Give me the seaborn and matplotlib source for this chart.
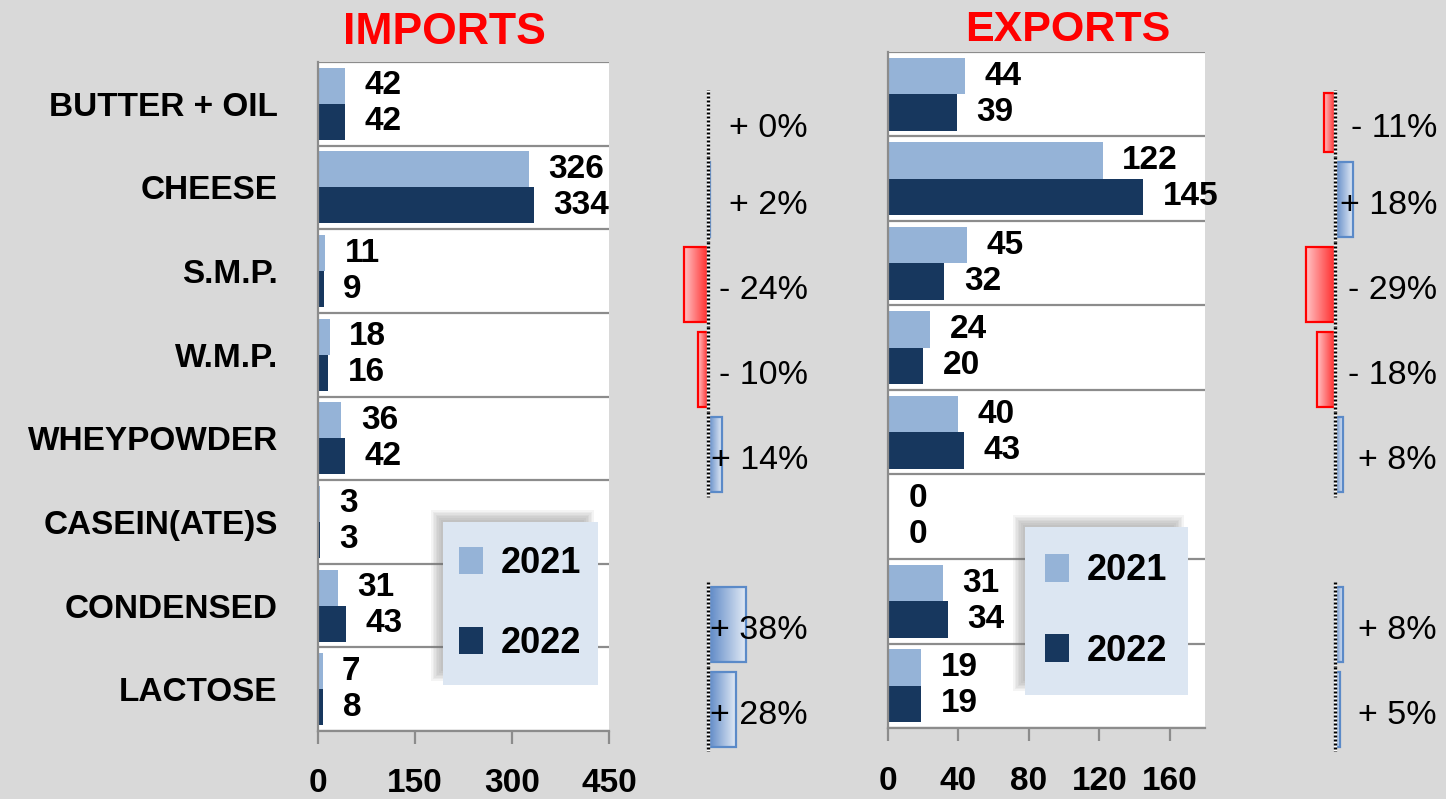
import numpy as np
import pandas as pd
import matplotlib
matplotlib.use("Agg")
import matplotlib.pyplot as plt
import seaborn as sns
from matplotlib.patches import Patch, Rectangle
from matplotlib.colors import LinearSegmentedColormap

# ---------------- data ----------------
categories = ["BUTTER + OIL", "CHEESE", "S.M.P.", "W.M.P.", "WHEYPOWDER",
              "CASEIN(ATE)S", "CONDENSED", "LACTOSE"]
years = ["2021", "2022"]
imports_2021 = [42, 326, 11, 18, 36, 3, 31, 7]
imports_2022 = [42, 334, 9, 16, 42, 3, 43, 8]
exports_2021 = [44, 122, 45, 24, 40, 0.4, 31, 19]
exports_2022 = [39, 145, 32, 20, 43, 0.4, 34, 19]
imports_change = [0, 2, -24, -10, 14, np.nan, 38, 28]
exports_change = [-11, 18, -29, -18, 8, np.nan, 8, 5]
imports_ticks = [0, 150, 300, 450]
exports_ticks = [0, 40, 80, 120, 160]
titles = ["IMPORTS", "EXPORTS"]

# ---------------- style ----------------
BG = "#d9d9d9"
LIGHT = "#95b3d7"
DARK = "#17375e"
GRID = "#8c8c8c"
plt.rcParams["font.family"] = ["Liberation Sans", "DejaVu Sans"]

W, H = 1446, 799
fig = plt.figure(figsize=(W / 100, H / 100), dpi=100, facecolor=BG)


def rect(x0, y0, x1, y1):
    return [x0 / W, 1 - y1 / H, (x1 - x0) / W, (y1 - y0) / H]


def main_panel(box, v21, v22, ticks, xmax, show_cats):
    ax = fig.add_axes(rect(*box))
    df = pd.DataFrame({
        "category": categories * 2,
        "year": [years[0]] * len(categories) + [years[1]] * len(categories),
        "value": list(v21) + list(v22),
    })
    sns.barplot(data=df, x="value", y="category", hue="year", hue_order=years,
                order=categories, palette=[LIGHT, DARK], orient="h", width=0.86,
                saturation=1, linewidth=0, errorbar=None, legend=False, ax=ax)
    ax.set_facecolor("white")
    ax.set_xlim(0, xmax)
    ax.set_ylim(len(categories) - 0.5, -0.5)
    for b in np.arange(-0.5, len(categories) - 0.4, 1.0):
        ax.axhline(b, color=GRID, lw=1.6, zorder=0.5)
    for c in ax.containers:
        ax.bar_label(c, fmt="%.0f", padding=14, fontsize=24, fontweight="bold",
                     color="black")
    for s in ["top", "right"]:
        ax.spines[s].set_visible(False)
    for s in ["left", "bottom"]:
        ax.spines[s].set_color(GRID)
        ax.spines[s].set_linewidth(1.6)
    ax.set_xticks(ticks)
    ax.set_xticklabels([str(t) for t in ticks])
    ax.tick_params(axis="x", length=9, width=1.6, color=GRID, pad=18,
                   labelsize=24)
    for t in ax.get_xticklabels():
        t.set_fontweight("bold")
    ax.tick_params(axis="y", length=0, pad=29, labelsize=24)
    if show_cats:
        for t in ax.get_yticklabels():
            t.set_fontweight("bold")
    else:
        ax.set_yticklabels([])
    ax.set_xlabel("")
    ax.set_ylabel("")
    return ax


red_cmap = LinearSegmentedColormap.from_list("r", ["#ffc4c6", "#ff2b2b"])
blue_cmap = LinearSegmentedColormap.from_list("b", ["#5a86c5", "#e2eaf5"])


def pct_panel(box, changes, xlim, label_x):
    ax = fig.add_axes(rect(*box))
    ax.set_facecolor("none")
    dfc = pd.DataFrame({"category": categories, "change": changes})
    sns.barplot(data=dfc, x="change", y="category", order=categories,
                orient="h", width=0.88, color="#ff0000", saturation=1,
                errorbar=None, ax=ax)
    top = -0.29
    bar_top = top + 0.04
    grad = np.linspace(0, 1, 256).reshape(1, -1)
    for p in list(ax.patches):
        w = p.get_width()
        if not np.isfinite(w):
            continue
        if w == 0:
            p.set_visible(False)
            continue
        x0 = p.get_x()
        y0, h = p.get_y(), p.get_height()
        if y0 < bar_top:
            h = h - (bar_top - y0)
            y0 = bar_top
            p.set_y(y0)
            p.set_height(h)
        cmap = red_cmap if w < 0 else blue_cmap
        im = ax.imshow(grad, extent=(min(x0, x0 + w), max(x0, x0 + w), y0, y0 + h),
                       aspect="auto", cmap=cmap, origin="lower", zorder=2,
                       interpolation="bilinear")
        im.set_clip_path(p)
        p.set_facecolor("none")
        p.set_edgecolor("#ff0000" if w < 0 else "#5b8ac8")
        p.set_linewidth(1.6)
        p.set_zorder(3)
    ax.set_xlim(*xlim)
    ax.set_ylim(len(categories) - 0.5, top)
    for i, c in enumerate(changes):
        if np.isnan(c):
            continue
        ax.plot([0, 0], [i - 0.5, i + 0.5], color="white", lw=2.4, zorder=5,
                solid_capstyle="butt")
        ax.plot([0, 0], [i - 0.5, i + 0.5], color="black", lw=2.4, zorder=6,
                dashes=(0.6, 0.6), dash_capstyle="butt")
        vis_top = max(i - 0.44, bar_top)
        ymid = (vis_top + i + 0.44) / 2 + 0.07
        sign = "+" if c >= 0 else "-"
        ax.text(label_x, ymid, f"{sign} {abs(c):.0f}%", ha="right", va="center",
                fontsize=24.5, color="black", zorder=7)
    ax.axis("off")
    return ax


def legend_box(box):
    x0, y0, x1, y1 = box
    off = 8
    for k in range(7):
        ins = k * 1.6 - 4
        sx0, sy0 = x0 - off + ins, y0 - off + ins
        sx1, sy1 = x1 - off - ins, y1 - off - ins
        sh = Rectangle((sx0 / W, 1 - sy1 / H), (sx1 - sx0) / W, (sy1 - sy0) / H,
                       transform=fig.transFigure, facecolor="#6f6f6f",
                       alpha=0.07, edgecolor="none", zorder=8)
        fig.add_artist(sh)
    axl = fig.add_axes(rect(*box), zorder=10)
    axl.set_facecolor("#dce6f2")
    axl.set_xticks([])
    axl.set_yticks([])
    for s in axl.spines.values():
        s.set_visible(False)
    handles = [Patch(facecolor=LIGHT, edgecolor="none"),
               Patch(facecolor=DARK, edgecolor="none")]
    axl.legend(handles, years, loc="center", frameon=False,
               prop={"weight": "bold", "size": 26}, handlelength=0.65,
               handleheight=0.8, handletextpad=0.5, labelspacing=1.25)
    return axl


ax_imp = main_panel((318, 62, 609, 731), imports_2021, imports_2022,
                    imports_ticks, 450, True)
ax_exp = main_panel((888, 52, 1205, 728), exports_2021, exports_2022,
                    exports_ticks, 180, False)

pct_panel((640, 90, 820, 752), imports_change, (-68, 112), 100)
pct_panel((1270, 90, 1446, 752), exports_change, (-65, 111), 102)

legend_box((443, 522, 598, 685))
legend_box((1025, 527, 1188, 695))

fig.text(444 / W, 1 - 33 / H, titles[0], color="#ff0000", fontsize=32,
         fontweight="bold", ha="center", va="center")
fig.text(1068 / W, 1 - 30 / H, titles[1], color="#ff0000", fontsize=31,
         fontweight="bold", ha="center", va="center")

fig.savefig("out.png", dpi=100, facecolor=BG)
